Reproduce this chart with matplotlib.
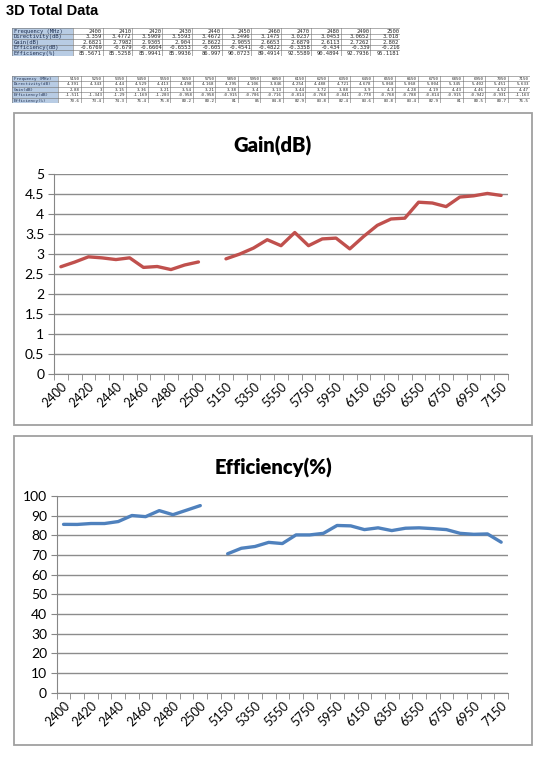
import numpy as np
import matplotlib.pyplot as plt
from matplotlib.patches import Rectangle

W, H = 557, 784

row_names = ["Frequency (MHz)", "Directivity(dB)", "Gain(dB)",
             "Efficiency(dB)", "Efficiency(%)"]

# 2.4 GHz band
freq_24 = [2400, 2410, 2420, 2430, 2440, 2450, 2460, 2470, 2480, 2490, 2500]
directivity_24 = [3.359, 3.4772, 3.5909, 3.5593, 3.4672, 3.3496, 3.1475,
                  3.0237, 3.0453, 3.0652, 3.018]
gain_24 = [2.6821, 2.7982, 2.9305, 2.904, 2.8622, 2.9055, 2.6653, 2.6879,
           2.6113, 2.7262, 2.802]
eff_db_24 = [-0.6769, -0.679, -0.6604, -0.6553, -0.605, -0.4541, -0.4822,
             -0.3358, -0.434, -0.339, -0.216]
eff_pct_24 = [85.5671, 85.5258, 85.9941, 85.9936, 86.997, 90.0723, 89.4914,
              92.5589, 90.4894, 92.7936, 95.1181]

# 5 GHz band (estimated from the charts)
freq_5g = [5150, 5250, 5350, 5450, 5550, 5650, 5750, 5850, 5950, 6050, 6150,
           6250, 6350, 6450, 6550, 6650, 6750, 6850, 6950, 7050, 7150]
directivity_5g = [4.391, 4.343, 4.44, 4.529, 4.413, 4.498, 4.168, 4.295,
                  4.106, 3.846, 4.254, 4.488, 4.721, 4.678, 5.068, 5.068,
                  5.004, 5.345, 5.402, 5.451, 5.633]
gain_5g = [2.88, 3.0, 3.15, 3.36, 3.21, 3.54, 3.21, 3.38, 3.4, 3.13, 3.44,
           3.72, 3.88, 3.9, 4.3, 4.28, 4.19, 4.43, 4.46, 4.52, 4.47]
eff_db_5g = [-1.511, -1.343, -1.29, -1.169, -1.203, -0.958, -0.958, -0.915,
             -0.706, -0.716, -0.814, -0.768, -0.841, -0.778, -0.768, -0.788,
             -0.814, -0.915, -0.942, -0.931, -1.163]
eff_pct_5g = [70.6, 73.4, 74.3, 76.4, 75.8, 80.2, 80.2, 81.0, 85.0, 84.8,
              82.9, 83.8, 82.4, 83.6, 83.8, 83.4, 82.9, 81.0, 80.5, 80.7, 76.5]

# chart categories: 2.4G band, one empty category, then 5G band
categories = [str(f) for f in freq_24] + [""] + [str(f) for f in freq_5g]
gain_all = gain_24 + [np.nan] + gain_5g
eff_all = eff_pct_24 + [np.nan] + eff_pct_5g


def px_rect(x0, y0, x1, y1):
    return [x0 / W, 1 - y1 / H, (x1 - x0) / W, (y1 - y0) / H]


def draw_table(fig, rect, rows, first_w, fs):
    ax = fig.add_axes(px_rect(*rect))
    ax.set_axis_off()
    n_rows = len(rows)
    n_cols = len(rows[0])
    ax.set_xlim(0, 1)
    ax.set_ylim(n_rows, 0)
    cw = (1 - first_w) / n_cols
    ax.add_patch(Rectangle((0, 0), first_w, n_rows, fc="#b8cce4", ec="none"))
    for r in range(n_rows + 1):
        ax.plot([0, 1], [r, r], color="#6f6f6f", lw=0.4)
    ax.plot([0, 0], [0, n_rows], color="#6f6f6f", lw=0.4)
    for c in range(n_cols + 1):
        ax.plot([first_w + c * cw] * 2, [0, n_rows], color="#6f6f6f", lw=0.4)
    for r, name in enumerate(row_names):
        ax.text(0.004, r + 0.55, name, ha="left", va="center", fontsize=fs,
                family="DejaVu Sans Mono", color="#1f2f50")
    for r, vals in enumerate(rows):
        for c, v in enumerate(vals):
            ax.text(first_w + (c + 1) * cw - 0.002, r + 0.55, f"{v:g}",
                    ha="right", va="center", fontsize=fs,
                    family="DejaVu Sans Mono", color="#2a2a2a")


def draw_chart(fig, box, plot, title, title_y, values, color, ymax, ystep):
    x0, y0, x1, y1 = box
    fig.add_artist(Rectangle((x0 / W, 1 - y1 / H), (x1 - x0) / W,
                             (y1 - y0) / H, transform=fig.transFigure,
                             fill=False, ec="#a0a0a0", lw=1.3))
    fig.text((x0 + x1) / 2 / W, 1 - title_y / H, title, ha="center",
             va="center", fontsize=14.5, fontweight="heavy", family="Lato")
    ax = fig.add_axes(px_rect(*plot))
    x = np.arange(len(categories))
    ax.plot(x, values, color=color, lw=2.4, solid_capstyle="round",
            solid_joinstyle="round", zorder=3)
    ax.set_xlim(-0.5, len(x) - 0.5)
    ax.set_ylim(0, ymax)
    yt = np.arange(0, ymax + ystep / 2, ystep)
    ax.set_yticks(yt)
    ax.set_yticklabels([f"{v:g}" for v in yt], family="Lato", fontsize=10)
    ax.yaxis.grid(True, color="#8c8c8c", lw=1)
    ax.set_axisbelow(True)
    for s in ["top", "right"]:
        ax.spines[s].set_visible(False)
    for s in ["left", "bottom"]:
        ax.spines[s].set_color("#868686")
    ax.set_xticks(x[::2])
    ax.set_xticklabels(categories[::2], family="Lato", fontsize=9,
                       rotation=45, ha="right", rotation_mode="anchor")
    ax.set_xticks(np.arange(-0.5, len(x)), minor=True)
    ax.tick_params(axis="x", which="major", length=0, pad=5)
    ax.tick_params(axis="x", which="minor", length=4, color="#868686")
    ax.tick_params(axis="y", length=4, color="#868686", pad=3)
    return ax


fig = plt.figure(figsize=(W / 100, H / 100), dpi=100)

fig.text(6 / W, 1 - 11 / H, "3D Total Data", ha="left", va="center",
         fontsize=10.5, fontweight="bold", family="Liberation Sans")

draw_table(fig, (12, 28, 400, 56),
           [freq_24, directivity_24, gain_24, eff_db_24, eff_pct_24],
           0.157, 4.0)
draw_table(fig, (12, 76, 530, 103),
           [freq_5g, directivity_5g, gain_5g, eff_db_5g, eff_pct_5g],
           0.089, 3.0)

draw_chart(fig, (14, 113, 532, 425), (54, 174.3, 508, 373.7), "Gain(dB)",
           146, gain_all, "#c0504d", 5, 0.5)
draw_chart(fig, (14, 436, 532, 745), (56.7, 496, 508, 692.5),
           "Efficiency(%)", 468, eff_all, "#4f81bd", 100, 10)

fig.savefig("out.png", dpi=100)
